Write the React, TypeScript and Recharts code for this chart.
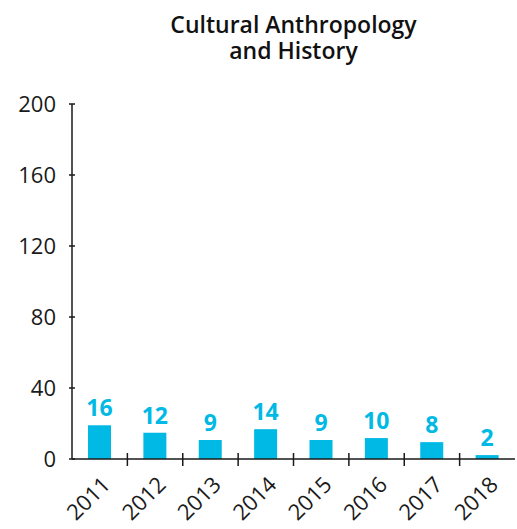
import React from 'react';
import { BarChart, Bar, XAxis, YAxis, LabelList } from 'recharts';

const years = ['2011', '2012', '2013', '2014', '2015', '2016', '2017', '2018'];
// printed counts above each bar
const counts = [16, 12, 9, 14, 9, 10, 8, 2];
// bar heights as drawn against the axis
const barHeights = [19, 14.8, 10.7, 16.8, 10.7, 11.8, 9.5, 2.2];
const yTicks = [0, 40, 80, 120, 160, 200];
const titleLines = ['Cultural Anthropology', 'and History'];

const data = years.map((year, i) => ({ year, count: counts[i], height: barHeights[i] }));

const FONT = '"Open Sans", Lato, sans-serif';
const BAR_COLOR = '#00B9E4';
const AXIS_COLOR = '#1a1a1a';
const BAND = 443 / years.length;

function XTick(props: any) {
    const { x, y, payload, index } = props;
    const tx = x + 12;
    const ty = y + 27;
    return (
        <g>
            {index < years.length - 1 && (
                <line x1={x + BAND / 2} x2={x + BAND / 2} y1={y - 6} y2={y + 7} stroke={AXIS_COLOR} strokeWidth={1.5} />
            )}
            <text
                x={tx}
                y={ty}
                textAnchor="end"
                transform={`rotate(-45, ${tx}, ${ty})`}
                fill="#1a1a1a"
                fontSize={22}
                fontFamily={FONT}
            >
                {payload.value}
            </text>
        </g>
    );
}

function YTick(props: any) {
    const { x, y, payload } = props;
    return (
        <g>
            <line x1={x - 3} x2={x + 3} y1={y} y2={y} stroke={AXIS_COLOR} strokeWidth={1.5} />
            <text x={x - 16} y={y} dy="0.36em" textAnchor="end" fill="#1a1a1a" fontSize={22} fontFamily={FONT}>
                {payload.value}
            </text>
        </g>
    );
}

export default function App() {
    return (
        <div style={{ position: 'absolute', left: 0, top: 0, width: 517, height: 529, background: '#fff', fontFamily: FONT }}>
            {titleLines.map((line, i) => (
                <div
                    key={line}
                    style={{
                        position: 'absolute',
                        top: 13 + i * 26,
                        left: 72,
                        width: 443,
                        textAlign: 'center',
                        fontSize: 23,
                        lineHeight: '22px',
                        fontWeight: 600,
                        color: '#111',
                    }}
                >
                    {line}
                </div>
            ))}
            <BarChart
                width={517}
                height={529}
                data={data}
                margin={{ top: 104, right: 2, bottom: 0, left: 0 }}
                barSize={23}
            >
                <XAxis
                    dataKey="year"
                    height={70}
                    tickSize={0}
                    tickMargin={0}
                    tickLine={false}
                    axisLine={{ stroke: AXIS_COLOR, strokeWidth: 1.5 }}
                    tick={<XTick />}
                    interval={0}
                />
                <YAxis
                    width={72}
                    domain={[0, 200]}
                    ticks={yTicks}
                    tickSize={0}
                    tickMargin={0}
                    tickLine={false}
                    axisLine={{ stroke: AXIS_COLOR, strokeWidth: 1.5 }}
                    tick={<YTick />}
                    interval={0}
                />
                <Bar dataKey="height" fill={BAR_COLOR} isAnimationActive={false}>
                    <LabelList
                        dataKey="count"
                        position="top"
                        offset={9}
                        fill={BAR_COLOR}
                        fontSize={23}
                        fontWeight={700}
                        fontFamily={FONT}
                    />
                </Bar>
            </BarChart>
        </div>
    );
}
